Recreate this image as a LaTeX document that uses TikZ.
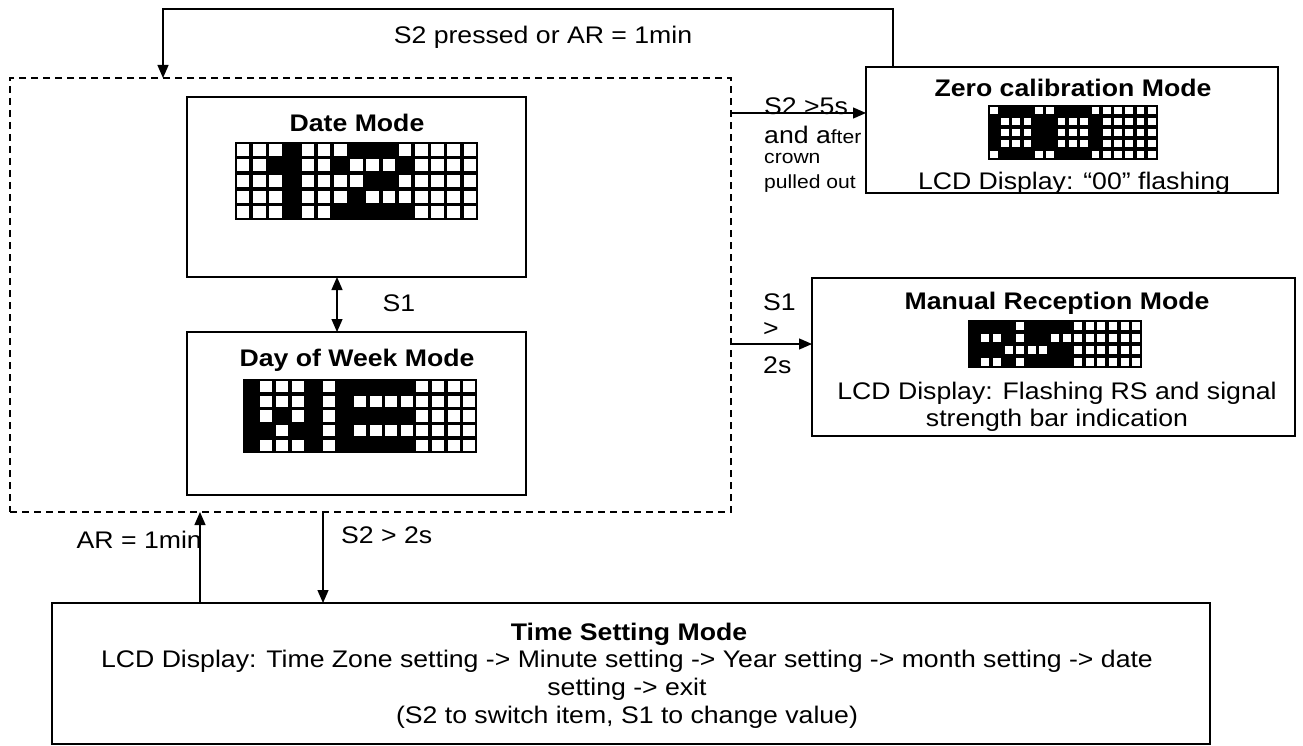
\documentclass[tikz,border=0pt]{standalone}
\usepackage{fontspec}
\setmainfont{Liberation Sans}[FakeStretch=1.11]
\usetikzlibrary{arrows.meta}
\newcommand\fsn{\fontsize{24}{27.7}\selectfont}
\newcommand\fss{\fontsize{19}{21}\selectfont}
% LCD grid: x0, y0, cell w, cell h, ncols, nrows, rows (1 = black)
\newcommand\lcdgrid[7]{%
  \fill[black] (#1,#2) rectangle ({#1+#5*#3},{#2+#6*#4});
  \foreach \rw [count=\ri] in {#7} {
    \foreach \v [count=\ci] in \rw {
      \ifnum\v=0
        \fill[white] ({#1+(\ci-1)*#3+1.8},{#2+(\ri-1)*#4+1.8}) rectangle ({#1+\ci*#3-1.8},{#2+\ri*#4-1.8});
      \fi
    }
  }
}
\tikzset{
  box/.style={draw, line width=1.6pt, inner sep=0pt, outer sep=0pt, anchor=north west},
  dashbox/.style={draw, line width=1.4pt, dash pattern=on 7pt off 5pt, inner sep=0pt, outer sep=0pt, anchor=north west},
  lbl/.style={inner sep=0pt, font=\fsn},
  small/.style={inner sep=0pt, font=\fss},
  ttl/.style={inner sep=0pt, font=\fsn\bfseries},
  arr/.style={-{Triangle[length=13pt,width=11pt]}, line width=1.3pt},
  darr/.style={{Triangle[length=13pt,width=11pt]}-{Triangle[length=13pt,width=11pt]}, line width=1.3pt},
}
\begin{document}
\begin{tikzpicture}[x=1pt,y=-1pt]
\useasboundingbox (0,0) rectangle (1303,746);

% boxes
\node[dashbox, minimum width=721pt, minimum height=434pt] (grp) at (10,78) {};
\node[box, minimum width=339pt, minimum height=180pt] (date) at (187,97) {};
\node[box, minimum width=339pt, minimum height=163pt] (day) at (187,332) {};
\node[box, minimum width=412pt, minimum height=126pt] (zero) at (866,67) {};
\node[box, minimum width=483pt, minimum height=158pt] (man) at (812,278) {};
\node[box, minimum width=1158pt, minimum height=141pt] (time) at (52,603) {};

% titles and texts
\node[ttl] (dateT) at (357,123) {Date Mode};
\node[ttl] (dayT) at (357,360) {Day of Week Mode};
\node[ttl] (zeroT) at (1073,88) {Zero calibration Mode};
\node[lbl] (zeroD) at (1074,183) {LCD Display: “00” flashing};
\node[ttl] (manT) at (1057,303) {Manual Reception Mode};
\node[lbl] (manD1) at (1057,393) {LCD Display: Flashing RS and signal};
\node[lbl] (manD2) at (1057,420) {strength bar indication};
\node[ttl] (timeT) at (629,634) {Time Setting Mode};
\node[lbl] (timeD1) at (627,661) {LCD Display: Time Zone setting -> Minute setting -> Year setting -> month setting -> date};
\node[lbl] (timeD2) at (627,689) {setting -> exit};
\node[lbl] (timeD3) at (627,717) {(S2 to switch item, S1 to change value)};

% LCD displays
\lcdgrid{235}{142}{16.2}{15.6}{15}{5}{
  {0,0,0,1,0,0,0,1,1,1,0,0,0,0,0},
  {0,0,1,1,0,0,1,0,0,0,1,0,0,0,0},
  {0,0,0,1,0,0,0,0,1,1,0,0,0,0,0},
  {0,0,0,1,0,0,0,1,0,0,0,0,0,0,0},
  {0,0,0,1,0,0,1,1,1,1,1,0,0,0,0}}
\lcdgrid{243}{379}{15.6}{14.8}{15}{5}{
  {1,0,0,0,1,0,1,1,1,1,1,0,0,0,0},
  {1,0,0,0,1,0,1,0,0,0,0,0,0,0,0},
  {1,0,1,0,1,0,1,1,1,1,1,0,0,0,0},
  {1,1,0,1,1,0,1,0,0,0,0,0,0,0,0},
  {1,0,0,0,1,0,1,1,1,1,1,0,0,0,0}}
\lcdgrid{988}{105}{11.3}{11}{15}{5}{
  {0,1,1,1,0,0,1,1,1,0,0,0,0,0,0},
  {1,0,0,0,1,1,0,0,0,1,0,0,0,0,0},
  {1,0,0,0,1,1,0,0,0,1,0,0,0,0,0},
  {1,0,0,0,1,1,0,0,0,1,0,0,0,0,0},
  {0,1,1,1,0,0,1,1,1,0,0,0,0,0,0}}
\lcdgrid{968}{320}{11.6}{12}{15}{4}{
  {1,1,1,1,0,1,1,1,1,0,0,0,0,0,0},
  {1,0,0,1,0,1,1,0,0,0,0,0,0,0,0},
  {1,1,1,0,0,0,0,1,1,0,0,0,0,0,0},
  {1,0,0,1,0,1,1,1,1,0,0,0,0,0,0}}

% connector helper coordinates
\coordinate (t1) at (893,9);
\coordinate (t2) at (163,9);
\coordinate (a1) at (0,113);
\coordinate (a2) at (0,344);
\coordinate (d1) at (337,0);
\coordinate (b1) at (323,0);
\coordinate (b2) at (200,0);

% connectors
\draw[arr] (zero.north -| t1) -- (t1) -- (t2) -- (grp.north -| t2);
\draw[arr] (grp.east |- a1) -- (zero.west |- a1);
\draw[arr] (grp.east |- a2) -- (man.west |- a2);
\draw[darr] (date.south -| d1) -- (day.north -| d1);
\draw[arr] (grp.south -| b1) -- (time.north -| b1);
\draw[arr] (time.north -| b2) -- (grp.south -| b2);

% connector labels
\node[lbl] (lTop) at (543,37) {S2 pressed or AR = 1min};
\node[lbl, anchor=west] (l5a) at (764,106) {S2 >5s};
\node[lbl, anchor=west] (l5b) at (764,135) {and a{\fss fter}};
\node[small, anchor=west] (l5c) at (764,158) {crown};
\node[small, anchor=west] (l5d) at (764,184) {pulled out};
\node[lbl] (lS1) at (399,303) {S1};
\node[lbl, anchor=west] (l2a) at (763,302) {S1};
\node[lbl, anchor=west] (l2b) at (763,330) {>};
\node[lbl, anchor=west] (l2c) at (763,365) {2s};
\node[lbl, anchor=west] (lS2) at (341,535) {S2 > 2s};
\node[lbl, anchor=east] (lAR) at (202,540) {AR = 1min};
\end{tikzpicture}
\end{document}
